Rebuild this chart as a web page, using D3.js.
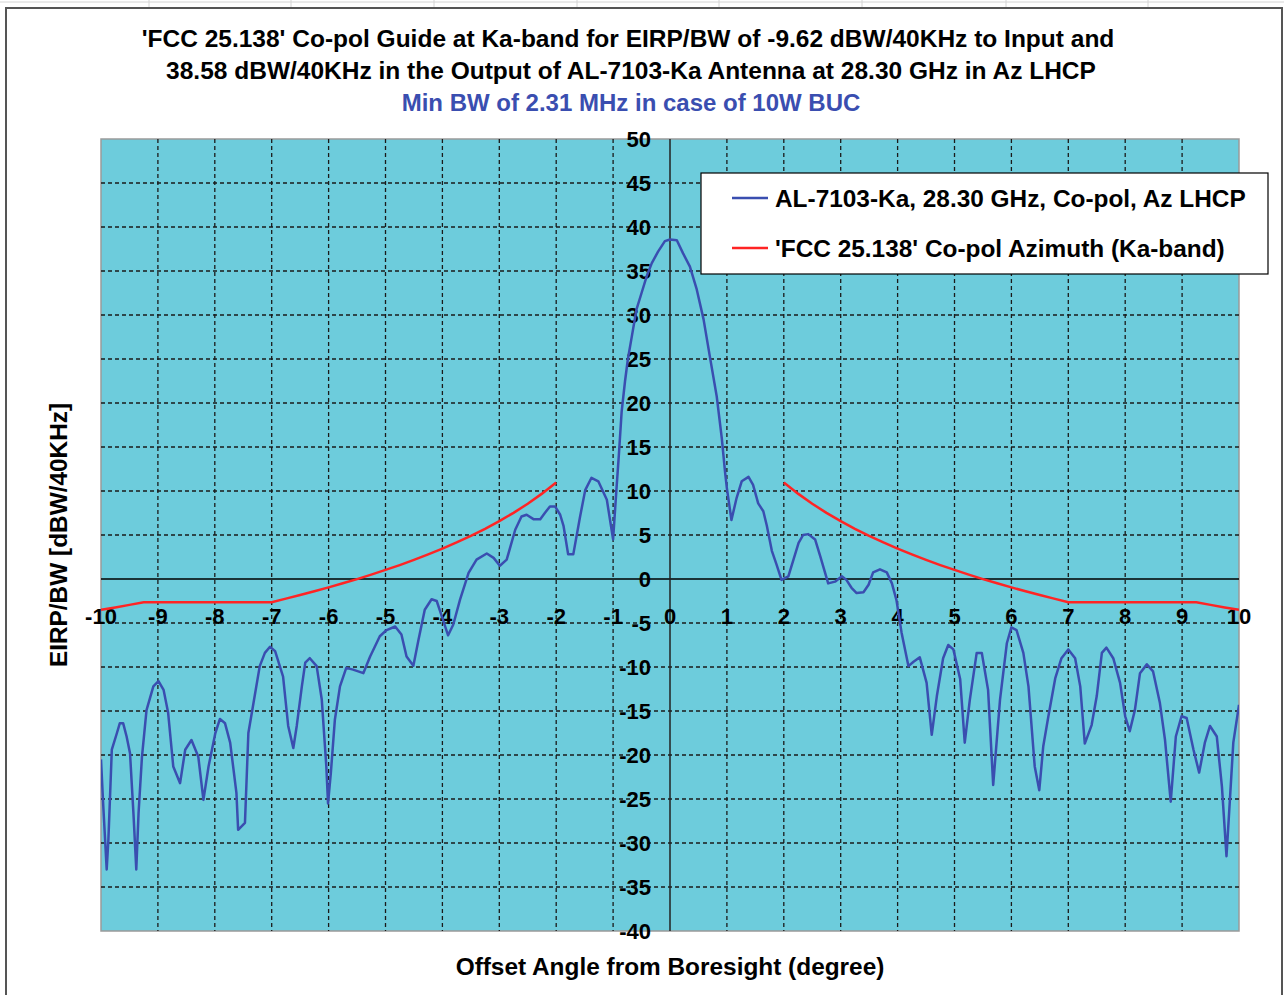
<!DOCTYPE html>
<html>
<head>
<meta charset="utf-8">
<script src="https://cdn.jsdelivr.net/npm/d3@7"></script>
<style>
  html, body { margin: 0; padding: 0; background: #ffffff; }
  svg text { font-family: "Liberation Sans", Arial, sans-serif; font-weight: bold; }
</style>
</head>
<body>
<svg id="chart" width="1284" height="995"></svg>
<script>
// ---------- data ----------
const titleLines = [
  "'FCC 25.138' Co-pol Guide at Ka-band for EIRP/BW of -9.62 dBW/40KHz to Input and",
  "38.58 dBW/40KHz in the Output of AL-7103-Ka Antenna at 28.30 GHz in Az LHCP"
];
const subtitle = "Min BW of 2.31 MHz in case of 10W BUC";
const xAxisTitle = "Offset Angle from Boresight (degree)";
const yAxisTitle = "EIRP/BW [dBW/40KHz]";
const seriesNames = ["AL-7103-Ka, 28.30 GHz, Co-pol, Az LHCP", "'FCC 25.138' Co-pol Azimuth (Ka-band)"];

const xTicks = [-10,-9,-8,-7,-6,-5,-4,-3,-2,-1,0,1,2,3,4,5,6,7,8,9,10];
const yTicks = [-40,-35,-30,-25,-20,-15,-10,-5,0,5,10,15,20,25,30,35,40,45,50];

// measured antenna pattern (angle in degrees)
const patternAngles = [
  -10.0,-9.96,-9.90,-9.87,-9.81,-9.72,-9.67,-9.61,-9.55,-9.49,-9.43,-9.38,-9.34,-9.28,-9.20,-9.08,-8.99,-8.90,-8.82,-8.73,
  -8.61,-8.52,-8.41,-8.29,-8.20,-8.11,-7.99,-7.91,-7.82,-7.73,-7.62,-7.59,-7.47,-7.41,-7.32,-7.21,-7.12,-7.03,-6.94,-6.80,
  -6.71,-6.62,-6.56,-6.47,-6.41,-6.33,-6.21,-6.12,-6.04,-6.01,-5.96,-5.89,-5.80,-5.69,-5.57,-5.39,-5.27,-5.10,
  -4.98,-4.83,-4.72,-4.63,-4.51,-4.42,-4.31,-4.19,-4.10,-4.01,-3.90,-3.81,-3.69,-3.54,-3.40,-3.22,-3.10,-2.99,-2.87,-2.72,
  -2.61,-2.52,-2.40,-2.28,-2.20,-2.11,-2.02,-1.93,-1.87,-1.79,-1.70,-1.58,-1.49,-1.38,-1.26,-1.11,-1.00,-0.94,-0.90,-0.85,
  -0.79,-0.74,-0.67,-0.59,-0.50,-0.41,-0.32,-0.21,-0.09,0.00,0.12,0.23,0.35,0.47,0.59,0.70,0.82,0.91,0.97,1.00,
  1.08,1.17,1.26,1.38,1.46,1.55,1.64,1.70,1.79,1.87,1.96,2.08,2.17,2.26,2.34,2.43,2.55,2.64,2.78,2.90,
  3.02,3.10,3.19,3.28,3.40,3.49,3.57,3.69,3.81,3.90,3.98,4.07,4.19,4.28,4.39,4.51,4.60,4.69,4.80,4.89,
  4.98,5.10,5.18,5.27,5.39,5.48,5.59,5.68,5.80,5.92,6.00,6.09,6.21,6.30,6.41,6.49,6.56,6.65,6.77,6.88,
  7.00,7.12,7.21,7.29,7.41,7.50,7.59,7.67,7.79,7.91,8.00,8.08,8.17,8.26,8.38,8.49,8.61,8.70,8.80,8.89,
  8.99,9.08,9.20,9.30,9.40,9.49,9.61,9.70,9.78,9.84,9.90,10.0
];
const patternValues = [
  -20.5,-25.8,-33.0,-29.6,-19.4,-17.5,-16.4,-16.4,-17.9,-19.8,-26.6,-33.0,-26.6,-20.2,-14.9,-12.2,-11.6,-12.6,-15.2,-21.3,
  -23.2,-19.4,-18.3,-20.2,-25.1,-21.3,-17.5,-15.9,-16.4,-18.6,-24.3,-28.5,-27.7,-17.5,-14.1,-9.9,-8.4,-7.7,-8.2,-11.1,
  -16.7,-19.2,-16.7,-12.2,-9.5,-9.0,-9.9,-13.7,-21.3,-25.5,-22.0,-16.0,-12.2,-10.1,-10.3,-10.7,-8.8,-6.5,
  -5.8,-5.4,-6.3,-8.8,-9.85,-6.9,-3.5,-2.3,-2.5,-4.25,-6.4,-5.2,-2.35,0.7,2.2,2.9,2.4,1.5,2.2,5.6,
  7.1,7.3,6.8,6.8,7.5,8.25,8.25,7.3,6.0,2.8,2.8,7.1,10.1,11.5,11.1,9.0,4.5,10.3,14.0,19.0,
  22.5,25.0,27.6,30.6,32.5,34.4,35.9,37.2,38.4,38.58,38.5,37.0,35.5,32.9,29.5,25.3,20.8,16.0,12.0,10.3,
  6.7,9.2,11.1,11.6,10.7,8.6,7.7,6.1,3.2,1.7,-0.1,0.3,2.2,4.1,5.0,5.1,4.5,2.6,-0.5,-0.3,
  0.3,-0.1,-1.0,-1.6,-1.5,-0.65,0.75,1.1,0.75,-0.5,-2.4,-6.1,-9.9,-9.4,-8.9,-11.8,-17.7,-13.3,-9.0,-7.5,
  -8.0,-11.4,-18.6,-13.7,-8.4,-8.4,-12.6,-23.4,-13.7,-7.3,-5.5,-5.8,-8.4,-12.2,-21.3,-24.0,-19.0,-15.6,-11.3,-9.0,
  -8.0,-9.0,-12.2,-18.7,-16.6,-13.3,-8.4,-7.8,-9.0,-11.8,-15.6,-17.3,-14.9,-10.7,-9.7,-10.5,-14.1,-18.3,-25.3,-17.9,
  -15.6,-15.8,-19.4,-22.0,-18.6,-16.7,-17.9,-23.6,-31.5,-25.1,-18.6,-14.3
];

// FCC 25.138 mask (null = no mask inside +/-2 deg)
const maskAngles = [
  -10,-9.75,-9.5,-9.25,-9,-8.5,-8,-7.5,-7,-6.75,-6.5,-6.25,-6,-5.75,-5.5,-5.25,-5,-4.75,-4.5,-4.25,
  -4,-3.75,-3.5,-3.25,-3,-2.75,-2.5,-2.25,-2,0,
  2,2.25,2.5,2.75,3,3.25,3.5,3.75,4,4.25,4.5,4.75,5,5.25,5.5,5.75,6,6.25,6.5,6.75,
  7,7.5,8,8.5,9,9.25,9.5,9.75,10
];
const maskValues = [
  -3.5,-3.23,-2.94,-2.65,-2.63,-2.63,-2.63,-2.63,-2.63,-2.23,-1.82,-1.40,-0.95,-0.49,-0.01,0.50,1.03,1.58,2.17,2.79,
  3.45,4.15,4.90,5.70,6.57,7.52,8.55,9.70,10.97,null,
  10.97,9.70,8.55,7.52,6.57,5.70,4.90,4.15,3.45,2.79,2.17,1.58,1.03,0.50,-0.01,-0.49,-0.95,-1.40,-1.82,-2.23,
  -2.63,-2.63,-2.63,-2.63,-2.63,-2.65,-2.94,-3.23,-3.5
];

// ---------- layout ----------
const svg = d3.select("#chart");
const plot = { left: 101, right: 1239, top: 139, bottom: 931 };
const x = d3.scaleLinear().domain([-10, 10]).range([plot.left, plot.right]);
const y = d3.scaleLinear().domain([-40, 50]).range([plot.bottom, plot.top]);

const blue = "#3a4eb0";
const red = "#ff2424";

// spreadsheet background strip
const sheet = svg.append("g");
sheet.append("line").attr("x1", 0).attr("x2", 1284).attr("y1", 2).attr("y2", 2)
  .attr("stroke", "#d4d4d4").attr("stroke-width", 1);
[149, 291, 434, 577, 719, 862, 1006, 1148].forEach(cx => {
  sheet.append("line").attr("x1", cx).attr("x2", cx).attr("y1", 0).attr("y2", 8)
    .attr("stroke", "#d4d4d4").attr("stroke-width", 1);
});
// chart frame
svg.append("rect").attr("x", 6).attr("y", 8).attr("width", 1276).attr("height", 1000)
  .attr("fill", "#ffffff").attr("stroke", "#555555").attr("stroke-width", 2);

// plot area
svg.append("rect").attr("x", plot.left).attr("y", plot.top)
  .attr("width", plot.right - plot.left).attr("height", plot.bottom - plot.top)
  .attr("fill", "#6dccdc").attr("stroke", "#9a9a9a").attr("stroke-width", 1.5);

// grid
const grid = svg.append("g");
xTicks.filter(t => t !== -10 && t !== 10 && t !== 0).forEach(t => {
  grid.append("line").attr("x1", x(t)).attr("x2", x(t)).attr("y1", plot.top).attr("y2", plot.bottom)
    .attr("stroke", "#1a1a1a").attr("stroke-width", 1.3).attr("stroke-dasharray", "4,3");
});
yTicks.filter(t => t !== -40 && t !== 50 && t !== 0).forEach(t => {
  grid.append("line").attr("x1", plot.left).attr("x2", plot.right).attr("y1", y(t)).attr("y2", y(t))
    .attr("stroke", "#1a1a1a").attr("stroke-width", 1.3).attr("stroke-dasharray", "4,3");
});
// axes through origin
svg.append("line").attr("x1", plot.left).attr("x2", plot.right).attr("y1", y(0)).attr("y2", y(0))
  .attr("stroke", "#000").attr("stroke-width", 1.5);
svg.append("line").attr("x1", x(0)).attr("x2", x(0)).attr("y1", plot.top).attr("y2", plot.bottom)
  .attr("stroke", "#222").attr("stroke-width", 1.5);

// tick labels
const tl = svg.append("g").attr("font-size", 22).attr("fill", "#000");
xTicks.forEach(t => {
  tl.append("text").attr("x", x(t)).attr("y", y(0) + 45).attr("text-anchor", "middle").text(t);
});
yTicks.forEach(t => {
  tl.append("text").attr("x", x(0) - 19).attr("y", y(t) + 8).attr("text-anchor", "end").text(t);
});

// series
const clip = svg.append("clipPath").attr("id", "pclip").append("rect")
  .attr("x", plot.left).attr("y", plot.top).attr("width", plot.right - plot.left).attr("height", plot.bottom - plot.top);

const maskData = maskAngles.map((a, i) => ({ a, v: maskValues[i] }));
const patternData = patternAngles.map((a, i) => ({ a, v: patternValues[i] }));
const line = d3.line().defined(d => d.v !== null).x(d => x(d.a)).y(d => y(d.v));

svg.append("path").datum(maskData).attr("d", line).attr("fill", "none")
  .attr("stroke", red).attr("stroke-width", 2.5).attr("clip-path", "url(#pclip)");
svg.append("path").datum(patternData).attr("d", line).attr("fill", "none")
  .attr("stroke", blue).attr("stroke-width", 2.5).attr("stroke-linejoin", "round")
  .attr("clip-path", "url(#pclip)");

// legend
const lg = svg.append("g");
lg.append("rect").attr("x", 701).attr("y", 173).attr("width", 567).attr("height", 101)
  .attr("fill", "#fff").attr("stroke", "#000").attr("stroke-width", 1.2);
[[blue, 198], [red, 248]].forEach(([c, ly], i) => {
  lg.append("line").attr("x1", 732).attr("x2", 768).attr("y1", ly).attr("y2", ly)
    .attr("stroke", c).attr("stroke-width", 2.5);
  lg.append("text").attr("x", 775).attr("y", ly + 8.5).attr("font-size", 24.4).attr("fill", "#000")
    .text(seriesNames[i]);
});

// titles
svg.append("text").attr("x", 628).attr("y", 47).attr("text-anchor", "middle")
  .attr("font-size", 24.5).attr("fill", "#000").text(titleLines[0]);
svg.append("text").attr("x", 631).attr("y", 79).attr("text-anchor", "middle")
  .attr("font-size", 24.5).attr("fill", "#000").text(titleLines[1]);
svg.append("text").attr("x", 631).attr("y", 111).attr("text-anchor", "middle")
  .attr("font-size", 24).attr("fill", "#3a4eb0").text(subtitle);

svg.append("text").attr("x", 670).attr("y", 975).attr("text-anchor", "middle")
  .attr("font-size", 24.4).attr("fill", "#000").text(xAxisTitle);
svg.append("text").attr("transform", "translate(67,535) rotate(-90)").attr("text-anchor", "middle")
  .attr("font-size", 24.4).attr("fill", "#000").text(yAxisTitle);
</script>
</body>
</html>
